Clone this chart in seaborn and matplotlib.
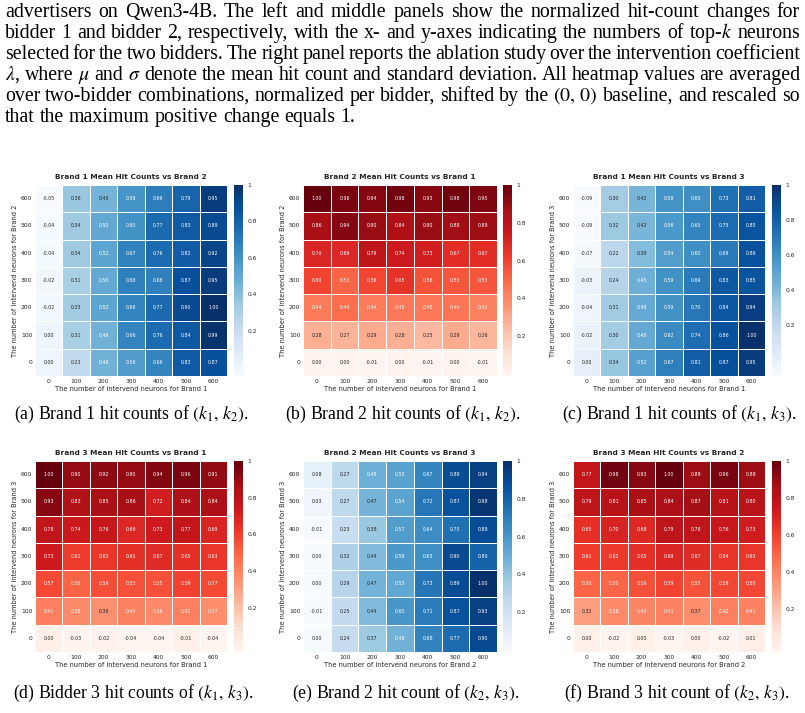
import numpy as np
import pandas as pd
import matplotlib
matplotlib.use("Agg")
import matplotlib.pyplot as plt
import seaborn as sns

# ---------------- data ----------------
k_values = [0, 100, 200, 300, 400, 500, 600]
row_labels = [600, 500, 400, 300, 200, 100, 0]   # heatmap rows, top to bottom

brand1_vs_brand2 = [
    [-0.05, 0.36, 0.45, 0.59, 0.69, 0.79, 0.95],
    [-0.04, 0.34, 0.50, 0.60, 0.77, 0.83, 0.89],
    [-0.04, 0.34, 0.52, 0.67, 0.76, 0.82, 0.92],
    [-0.02, 0.31, 0.50, 0.68, 0.68, 0.87, 0.95],
    [-0.02, 0.33, 0.52, 0.66, 0.77, 0.90, 1.00],
    [0.00, 0.31, 0.46, 0.66, 0.76, 0.84, 0.99],
    [0.00, 0.23, 0.46, 0.56, 0.66, 0.83, 0.87],
]
brand2_vs_brand1 = [
    [1.00, 0.96, 0.94, 0.98, 0.93, 0.98, 0.95],
    [0.86, 0.94, 0.90, 0.84, 0.90, 0.88, 0.89],
    [0.70, 0.69, 0.79, 0.74, 0.73, 0.67, 0.67],
    [0.60, 0.51, 0.59, 0.65, 0.56, 0.55, 0.55],
    [0.44, 0.48, 0.44, 0.45, 0.45, 0.46, 0.42],
    [0.28, 0.27, 0.29, 0.28, 0.25, 0.29, 0.26],
    [0.00, 0.00, -0.01, 0.00, -0.01, 0.00, -0.01],
]
brand1_vs_brand3 = [
    [-0.09, 0.30, 0.42, 0.58, 0.60, 0.73, 0.81],
    [-0.09, 0.32, 0.42, 0.56, 0.65, 0.75, 0.85],
    [-0.07, 0.22, 0.39, 0.54, 0.60, 0.69, 0.86],
    [-0.03, 0.24, 0.45, 0.59, 0.69, 0.83, 0.85],
    [-0.04, 0.31, 0.48, 0.59, 0.70, 0.84, 0.94],
    [-0.02, 0.30, 0.48, 0.62, 0.74, 0.86, 1.00],
    [0.00, 0.34, 0.52, 0.67, 0.81, 0.87, 0.95],
]
brand3_vs_brand1 = [
    [1.00, 0.90, 0.92, 0.90, 0.94, 0.96, 0.91],
    [0.93, 0.83, 0.85, 0.86, 0.72, 0.84, 0.84],
    [0.78, 0.74, 0.76, 0.68, 0.73, 0.77, 0.69],
    [0.73, 0.61, 0.63, 0.65, 0.67, 0.65, 0.63],
    [0.57, 0.50, 0.56, 0.55, 0.55, 0.59, 0.57],
    [0.41, 0.38, 0.36, 0.40, 0.38, 0.41, 0.37],
    [0.00, -0.03, -0.02, -0.04, -0.04, -0.01, -0.04],
]
brand2_vs_brand3 = [
    [0.08, 0.27, 0.49, 0.55, 0.67, 0.89, 0.94],
    [0.03, 0.27, 0.47, 0.54, 0.72, 0.87, 0.98],
    [-0.01, 0.23, 0.38, 0.57, 0.64, 0.75, 0.89],
    [0.00, 0.32, 0.44, 0.59, 0.63, 0.90, 0.80],
    [0.00, 0.29, 0.47, 0.53, 0.73, 0.89, 1.00],
    [-0.01, 0.25, 0.44, 0.60, 0.71, 0.87, 0.93],
    [0.00, 0.24, 0.37, 0.48, 0.68, 0.77, 0.90],
]
brand3_vs_brand2 = [
    [0.77, 0.98, 0.93, 1.00, 0.89, 0.96, 0.88],
    [0.79, 0.81, 0.85, 0.84, 0.87, 0.81, 0.80],
    [0.65, 0.70, 0.68, 0.79, 0.78, 0.76, 0.73],
    [0.61, 0.62, 0.65, 0.69, 0.67, 0.64, 0.63],
    [0.50, 0.50, 0.56, 0.59, 0.55, 0.58, 0.58],
    [0.32, 0.38, 0.40, 0.41, 0.37, 0.42, 0.41],
    [0.00, -0.02, 0.00, -0.03, 0.00, -0.02, 0.01],
]

titles = [
    "Brand 1 Mean Hit Counts vs Brand 2",
    "Brand 2 Mean Hit Counts vs Brand 1",
    "Brand 1 Mean Hit Counts vs Brand 3",
    "Brand 3 Mean Hit Counts vs Brand 1",
    "Brand 2 Mean Hit Counts vs Brand 3",
    "Brand 3 Mean Hit Counts vs Brand 2",
]
xlabels = ["Brand 1", "Brand 1", "Brand 1", "Brand 1", "Brand 2", "Brand 2"]
ylabels = ["Brand 2", "Brand 2", "Brand 3", "Brand 3", "Brand 3", "Brand 3"]
captions = [
    r"(a) Brand 1 hit counts of $(k_1,\,k_2)$.",
    r"(b) Brand 2 hit counts of $(k_1,\,k_2)$.",
    r"(c) Brand 1 hit counts of $(k_1,\,k_3)$.",
    r"(d) Bidder 3 hit counts of $(k_1,\,k_3)$.",
    r"(e) Brand 2 hit count of $(k_2,\,k_3)$.",
    r"(f) Brand 3 hit count of $(k_2,\,k_3)$.",
]
cbar_ticks = [0.2, 0.4, 0.6, 0.8, 1.0]
cbar_ticklabels = ["0.2", "0.4", "0.6", "0.8", "1"]

body_lines = [
    "advertisers on Qwen3-4B. The left and middle panels show the normalized hit-count changes for",
    "bidder 1 and bidder 2, respectively, with the x- and y-axes indicating the numbers of top-$k$ neurons",
    "selected for the two bidders. The right panel reports the ablation study over the intervention coefficient",
    r"$\lambda$, where $\mu$ and $\sigma$ denote the mean hit count and standard deviation. All heatmap values are averaged",
    r"over two-bidder combinations, normalized per bidder, shifted by the $(0,\,0)$ baseline, and rescaled so",
    "that the maximum positive change equals 1.",
]

# ---------------- style ----------------
sns.set_theme(style="white")
plt.rcParams["font.family"] = ["DejaVu Sans"]
plt.rcParams["mathtext.fontset"] = "stix"

W, H = 805, 713
fig = plt.figure(figsize=(W / 100, H / 100), dpi=100)


def rect(x0, y0, x1, y1):
    return [x0 / W, 1 - y1 / H, (x1 - x0) / W, (y1 - y0) / H]


datasets = [brand1_vs_brand2, brand2_vs_brand1, brand1_vs_brand3,
            brand3_vs_brand1, brand2_vs_brand3, brand3_vs_brand2]
cmaps = ["Blues", "Reds", "Blues", "Reds", "Blues", "Reds"]
cell_x = [(35, 227), (303, 497), (573, 765)]
cbar_x = [(234, 243), (503, 512), (772, 781)]
cell_y = [(185, 376), (461, 652)]
cap_cx = [[131, 403, 679], [133, 406, 677]]
cap_cy = [414, 693]

for i, data in enumerate(datasets):
    r, c = divmod(i, 3)
    ax = fig.add_axes(rect(cell_x[c][0], cell_y[r][0], cell_x[c][1], cell_y[r][1]))
    cax = fig.add_axes(rect(cbar_x[c][0], cell_y[r][0], cbar_x[c][1], cell_y[r][1]))
    df = pd.DataFrame(data, index=row_labels, columns=k_values)
    sns.heatmap(df, ax=ax, cbar_ax=cax, cmap=cmaps[i], vmax=1.0,
                annot=True, fmt=".2f", annot_kws={"size": 3.4},
                linewidths=0.6, linecolor="white")
    ax.set_title(titles[i], fontsize=5.3, fontweight="bold", pad=4)
    ax.set_xlabel(f"The number of intervend neurons for {xlabels[i]}", fontsize=4.8, labelpad=1.5)
    ax.set_ylabel(f"The number of intervend neurons for {ylabels[i]}", fontsize=4.8, labelpad=2)
    ax.tick_params(length=0, labelsize=4.3, pad=2)
    ax.set_yticklabels(ax.get_yticklabels(), rotation=0)
    ax.set_xticklabels(ax.get_xticklabels(), rotation=0)
    cax.set_yticks(cbar_ticks)
    cax.set_yticklabels(cbar_ticklabels)
    cax.tick_params(length=0, labelsize=4.3, pad=3)
    fig.text(cap_cx[r][c] / W, 1 - cap_cy[r] / H, captions[i], fontsize=12.8,
             family="Liberation Serif", ha="center", va="center", color="black")

# ---------------- justified body text ----------------
renderer = fig.canvas.get_renderer()
body_size = 14.3
x_left, x_right = 5, 800
baselines = [17, 38, 59, 80, 101, 122]
for li, line in enumerate(body_lines):
    words = line.split(" ")
    objs = [fig.text(0, 0, w, fontsize=body_size, family="Liberation Serif",
                     ha="left", va="baseline", color="black") for w in words]
    widths = [o.get_window_extent(renderer).width for o in objs]
    if li < len(body_lines) - 1:
        gap = (x_right - x_left - sum(widths)) / (len(words) - 1)
    else:
        gap = 0.25 * body_size * 100 / 72
    x = x_left
    for o, w in zip(objs, widths):
        o.set_position((x / W, 1 - baselines[li] / H))
        x += w + gap

fig.savefig("out.png", dpi=100)
